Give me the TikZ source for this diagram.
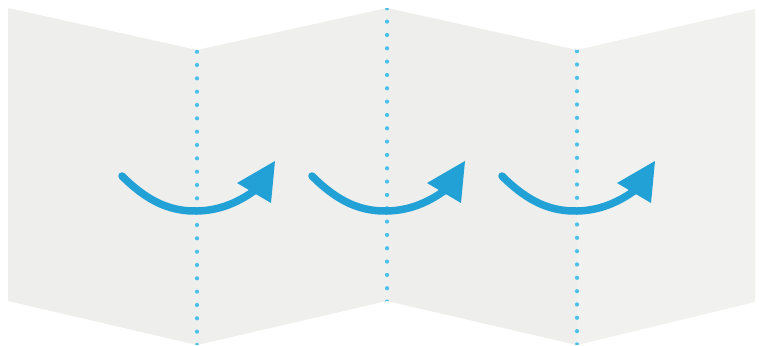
\documentclass[tikz,border=0pt]{standalone}
\usetikzlibrary{calc}
\definecolor{paperA}{HTML}{EEEEEC}
\definecolor{paperB}{HTML}{EFEFED}
\definecolor{paperC}{HTML}{EEEEEC}
\definecolor{paperD}{HTML}{F1F1EF}
\definecolor{dotblue}{HTML}{4CC0EC}
\definecolor{arrowblue}{HTML}{22A1D7}
\tikzset{
  panel/.style={draw=none},
  folddot/.style={fill=dotblue, draw=none},
  shaft/.style={draw=arrowblue, line width=7.5pt, line cap=round},
  head/.style={fill=arrowblue, draw=none},
}
\begin{document}
\begin{tikzpicture}[x=1pt,y=-1pt]
\useasboundingbox (0,0) rectangle (759,345);
\fill[white] (0,0) rectangle (759,345);
% corners of the zigzag paper
\coordinate (t0) at (8,8);
\coordinate (t1) at (197,50);
\coordinate (t2) at (387,8);
\coordinate (t3) at (577,50);
\coordinate (t4) at (755,9);
\coordinate (b0) at (8,301);
\coordinate (b1) at (197,345);
\coordinate (b2) at (387,301);
\coordinate (b3) at (577,345);
\coordinate (b4) at (755,302);
% panels
\fill[paperA,panel] (t0) -- (t1) -- (b1) -- (b0) -- cycle;
\fill[paperB,panel] (t1) -- (t2) -- (b2) -- (b1) -- cycle;
\fill[paperC,panel] (t2) -- (t3) -- (b3) -- (b2) -- cycle;
\fill[paperD,panel] (t3) -- (t4) -- (b4) -- (b3) -- cycle;
% fold dots
\begin{scope}
  \clip (t0) -- (t1) -- (t2) -- (t3) -- (t4) -- (b4) -- (b3) -- (b2) -- (b1) -- (b0) -- cycle;
  \foreach \k in {0,...,22} {
    \fill[folddot] (197,51.7+13.33*\k) circle (2.1);
    \fill[folddot] (577,51.2+13.33*\k) circle (2.1);
  }
  \foreach \k in {0,...,22} {
    \fill[folddot] (387,8.3+13.33*\k) circle (2.1);
  }
\end{scope}
% arrows
\foreach \F/\n in {197/a, 387/b, 577/c} {
  \coordinate (\n s) at (\F-75,176);
  \coordinate (\n m) at (\F,211);
  \coordinate (\n e) at (\F+57,191);
  \coordinate (\n tip) at (\F+78,161);
  \coordinate (\n l) at (\F+40,183);
  \coordinate (\n r) at (\F+74,203);
  \draw[shaft] (\n s) .. controls (\F-48,203) and (\F-25,211.5) .. (\n m)
               .. controls (\F+22,210.5) and (\F+40,203) .. (\n e);
  \fill[head] (\n tip) -- (\n l) -- (\n r) -- cycle;
}
\end{tikzpicture}
\end{document}
